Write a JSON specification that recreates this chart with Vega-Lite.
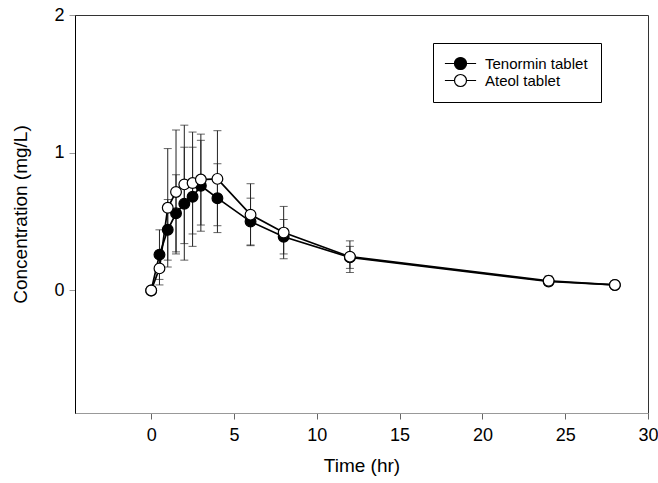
{
  "$schema": "https://vega.github.io/schema/vega-lite/v6.json",
  "width": 573,
  "height": 398,
  "autosize": "none",
  "padding": {"left": 75, "top": 15, "right": 10, "bottom": 70},
  "background": "white",
  "config": {
    "font": "Liberation Sans",
    "view": {"stroke": "#333", "strokeWidth": 1},
    "axis": {"grid": false, "labelFont": "Liberation Sans", "titleFont": "Liberation Sans", "labelColor": "black", "titleColor": "black", "titleFontWeight": "normal", "labelFontSize": 18, "titleFontSize": 19, "tickSize": 6}
  },
  "data": {
    "values": [
      {"series": "Tenormin tablet", "time": 0, "conc": 0, "lo": 0, "hi": 0},
      {"series": "Tenormin tablet", "time": 0.5, "conc": 0.26, "lo": 0.08, "hi": 0.44},
      {"series": "Tenormin tablet", "time": 1, "conc": 0.44, "lo": 0.22, "hi": 0.66},
      {"series": "Tenormin tablet", "time": 1.5, "conc": 0.56, "lo": 0.28, "hi": 0.84},
      {"series": "Tenormin tablet", "time": 2, "conc": 0.63, "lo": 0.22, "hi": 1.04},
      {"series": "Tenormin tablet", "time": 2.5, "conc": 0.68, "lo": 0.32, "hi": 1.04},
      {"series": "Tenormin tablet", "time": 3, "conc": 0.76, "lo": 0.43, "hi": 1.09},
      {"series": "Tenormin tablet", "time": 4, "conc": 0.67, "lo": 0.42, "hi": 0.92},
      {"series": "Tenormin tablet", "time": 6, "conc": 0.5, "lo": 0.33, "hi": 0.67},
      {"series": "Tenormin tablet", "time": 8, "conc": 0.39, "lo": 0.265, "hi": 0.515},
      {"series": "Tenormin tablet", "time": 12, "conc": 0.24, "lo": 0.16, "hi": 0.32},
      {"series": "Tenormin tablet", "time": 24, "conc": 0.065, "lo": 0.04, "hi": 0.09},
      {"series": "Tenormin tablet", "time": 28, "conc": 0.04, "lo": 0.03, "hi": 0.05},
      {"series": "Ateol tablet", "time": 0, "conc": 0, "lo": 0, "hi": 0},
      {"series": "Ateol tablet", "time": 0.5, "conc": 0.16, "lo": 0.04, "hi": 0.28},
      {"series": "Ateol tablet", "time": 1, "conc": 0.6, "lo": 0.17, "hi": 1.03},
      {"series": "Ateol tablet", "time": 1.5, "conc": 0.715, "lo": 0.265, "hi": 1.165},
      {"series": "Ateol tablet", "time": 2, "conc": 0.77, "lo": 0.34, "hi": 1.2},
      {"series": "Ateol tablet", "time": 2.5, "conc": 0.78, "lo": 0.41, "hi": 1.15},
      {"series": "Ateol tablet", "time": 3, "conc": 0.805, "lo": 0.475, "hi": 1.135},
      {"series": "Ateol tablet", "time": 4, "conc": 0.81, "lo": 0.47, "hi": 1.16},
      {"series": "Ateol tablet", "time": 6, "conc": 0.55, "lo": 0.325, "hi": 0.775},
      {"series": "Ateol tablet", "time": 8, "conc": 0.42, "lo": 0.23, "hi": 0.61},
      {"series": "Ateol tablet", "time": 12, "conc": 0.245, "lo": 0.13, "hi": 0.36},
      {"series": "Ateol tablet", "time": 24, "conc": 0.07, "lo": 0.035, "hi": 0.105},
      {"series": "Ateol tablet", "time": 28, "conc": 0.04, "lo": 0.03, "hi": 0.05}
    ]
  },
  "encoding": {
    "x": {
      "field": "time", "type": "quantitative",
      "scale": {"domain": [-4.6, 30], "nice": false, "zero": false},
      "axis": {"title": "Time (hr)", "values": [0, 5, 10, 15, 20, 25, 30], "format": "d", "domainColor": "#999", "tickColor": "#666", "labelPadding": 7, "titlePadding": 12, "labelFlush": false}
    }
  },
  "layer": [
    {
      "mark": {"type": "rule", "color": "#222", "strokeWidth": 1},
      "encoding": {
        "y": {"field": "lo", "type": "quantitative", "scale": {"domain": [-0.89, 2], "nice": false, "zero": false}},
        "y2": {"field": "hi"}
      }
    },
    {
      "mark": {"type": "tick", "orient": "horizontal", "color": "#222", "thickness": 1, "size": 8},
      "encoding": {"y": {"field": "lo", "type": "quantitative"}}
    },
    {
      "mark": {"type": "tick", "orient": "horizontal", "color": "#222", "thickness": 1, "size": 8},
      "encoding": {"y": {"field": "hi", "type": "quantitative"}}
    },
    {
      "mark": {"type": "line", "color": "black", "strokeWidth": 1.7},
      "encoding": {
        "y": {"field": "conc", "type": "quantitative"},
        "detail": {"field": "series"}
      }
    },
    {
      "mark": {"type": "point", "filled": true, "stroke": "black", "strokeWidth": 1.2, "opacity": 1, "size": 115, "shape": "circle"},
      "encoding": {
        "y": {
          "field": "conc", "type": "quantitative",
          "axis": {"title": "Concentration (mg/L)", "values": [0, 1, 2], "format": "d", "domainColor": "black", "tickColor": "#999", "labelPadding": 5, "titlePadding": 23}
        },
        "fill": {
          "field": "series", "type": "nominal",
          "scale": {"domain": ["Tenormin tablet", "Ateol tablet"], "range": ["black", "white"]},
          "legend": {
            "title": null,
            "orient": "none",
            "legendX": 358,
            "legendY": 28,
            "strokeColor": "black",
            "fillColor": "white",
            "padding": 13,
            "symbolOffset": 7,
            "symbolType": "M-2.6,0H-1M1,0H2.6M1,0A1,1,0,1,1,-1,0A1,1,0,1,1,1,0Z",
            "symbolSize": 144,
            "symbolStrokeColor": "black",
            "symbolStrokeWidth": 1.2,
            "symbolOpacity": 1,
            "labelFont": "Liberation Sans",
            "labelFontSize": 15,
            "labelColor": "black",
            "labelOffset": 17,
            "rowPadding": 0
          }
        }
      }
    }
  ]
}
